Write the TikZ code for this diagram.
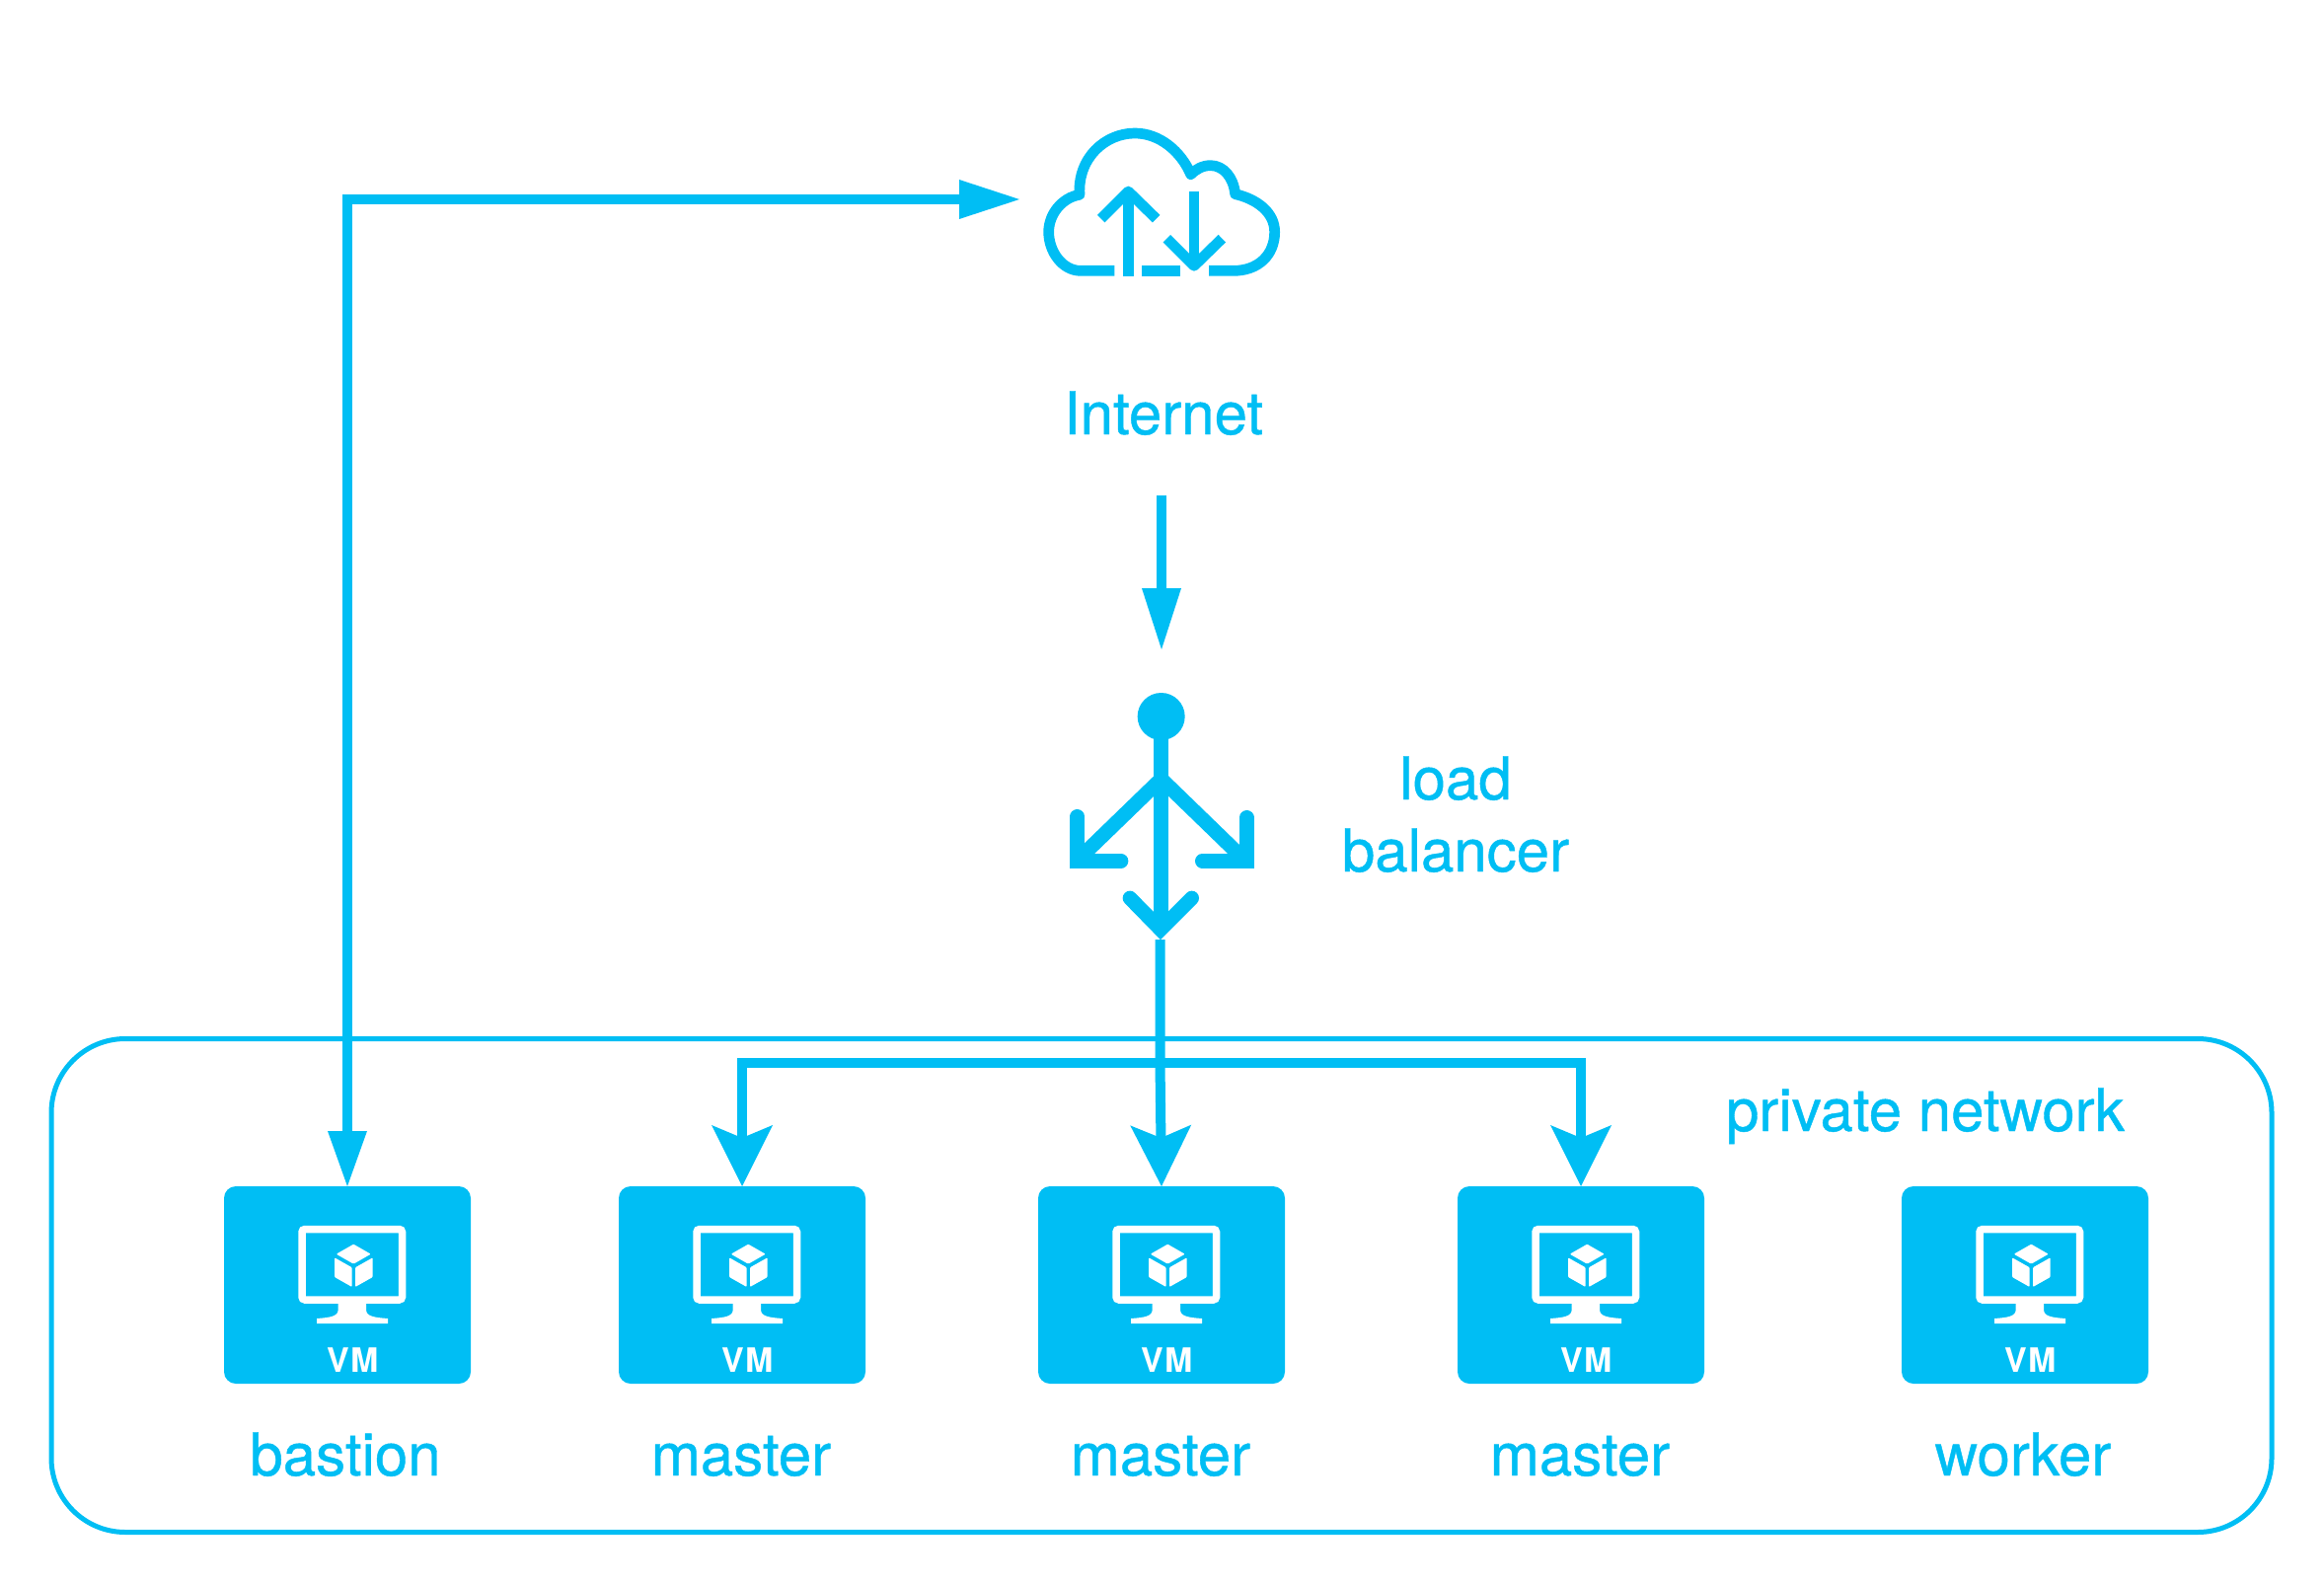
\documentclass[tikz,border=0pt]{standalone}
\usepackage{fontspec}
\setmainfont{TeX Gyre Heros}
\newfontfamily\labelfont[RawFeature={embolden=0.7}]{TeX Gyre Heros}
\usetikzlibrary{arrows.meta}
\definecolor{az}{HTML}{00BEF4}
\tikzset{
  x=1pt,y=-1pt,
  lbl/.style={anchor=base,inner sep=0pt,outer sep=0pt,text=az,font=\labelfont\fontsize{60}{73}\selectfont},
  vmbox/.style={fill=az,rounded corners=12pt,minimum width=250pt,minimum height=200pt,inner sep=0pt,outer sep=0pt},
  vmtext/.style={anchor=base,inner sep=0pt,text=white,font=\fontsize{34}{34}\selectfont\bfseries},
  link/.style={draw=az,line width=10pt,line join=miter,line cap=butt},
  fine/.style={draw=az,line width=5pt,rounded corners=75pt},
  iconbox/.style={inner sep=0pt,outer sep=0pt,minimum width=240pt},
  cloudline/.style={draw=az,line width=10.7pt,line join=round,line cap=butt},
  lbline/.style={draw=az,line width=14.7pt,line join=miter,line cap=butt},
  lbcap/.style={draw=az,line width=14.7pt,line join=miter,line cap=round},
}
\newcommand{\vmunit}[4]{%
  \node[vmbox] (#1) at (#2,1302) {};
  \begin{scope}[shift={(#2,1302)}]
    \draw[white,line width=7.5pt,rounded corners=3pt] (-46,-56.5) rectangle (55.5,15);
    \fill[white] (-9.3,19) -- (-9.3,25) .. controls (-9.3,32) and (-18,33) .. (-31,34) -- (-31,39) -- (41,39) -- (41,34) .. controls (28,33) and (19,32) .. (19,25) -- (19,19) -- cycle;
    \fill[white,rounded corners=1pt] (6.3,-41.3) -- (23.7,-31.3) -- (6.3,-21.3) -- (-11.3,-31.3) -- cycle;
    \fill[white,rounded corners=1pt] (-13,-27.7) -- (4.7,-17.7) -- (4.7,2) -- (-13,-8) -- cycle;
    \fill[white,rounded corners=1pt] (8,-17.7) -- (25.7,-27.7) -- (25.7,-8) -- (8,2) -- cycle;
    \node[vmtext] (#1vm) at (6,88) {V\kern1.5pt M};
  \end{scope}
  \node[lbl] (#1name) at (#3,1495) {#4};
}
\begin{document}
\begin{tikzpicture}
\useasboundingbox (0,0) rectangle (2355,1605);
% private network frame
\node[inner sep=0pt,outer sep=0pt,minimum width=2250pt,minimum height=500pt] (net) at (1177,1302.5) {};
\draw[fine] (net.north west) rectangle (net.south east);
\node[lbl] (netname) at (1951,1146) {private network};

% VMs
\vmunit{bastion}{352}{350}{bastion}
\vmunit{ma}{752}{751}{master}
\vmunit{mb}{1177}{1176}{master}
\vmunit{mc}{1602}{1601}{master}
\vmunit{worker}{2052}{2050}{worker}

% cloud icon
\node[iconbox,minimum height=160pt] (cloud) at (1177,202) {};
\begin{scope}[shift={(1020,100)},xscale=1/3,yscale=1/3]
  \draw[cloudline] (328,523) -- (225,523) .. controls (170,523) and (128,465) .. (128,405) .. controls (128,350) and (170,300) .. (222,292) .. controls (215,180) and (300,105) .. (390,105) .. controls (465,105) and (530,160) .. (560,230) .. controls (575,215) and (595,203) .. (620,203) .. controls (660,203) and (690,240) .. (695,290) .. controls (760,305) and (815,345) .. (815,405) .. controls (815,475) and (765,523) .. (690,523) -- (615,523);
  \draw[cloudline] (412,523) -- (527,523);
  \draw[cloudline] (370,540) -- (370,285);
  \draw[cloudline] (287,365) -- (370,282) -- (455,365);
  \draw[cloudline] (570,282) -- (570,505);
  \draw[cloudline] (487,425) -- (570,508) -- (655,425);
\end{scope}
\node[lbl,text depth=0pt] (inet) at (1179,440) {Internet};

% load balancer icon
\node[iconbox,minimum height=250pt] (lb) at (1177,827) {};
\begin{scope}[shift={(1050,680)},xscale=1/3,yscale=1/3]
  \fill[az] (380,138) circle (72);
  \draw[lbline] (380,138) -- (380,780);
  \draw[lbline] (380,328) -- (125,575);
  \draw[lbline] (380,328) -- (640,580);
  \draw[lbcap] (125,442) -- (125,577) -- (258,577);
  \draw[lbcap] (640,445) -- (640,577) -- (505,577);
  \draw[lbcap] (285,690) -- (378,785) -- (473,690);
\end{scope}
\node[lbl,align=center,anchor=base] (lbname) at (1475,883) {load\\balancer};

% connectors
\coordinate (lbout) at (1175.5,952);
\coordinate (kink) at (1175.5,1077);
\draw[link,{Triangle[length=56pt,width=40pt,line width=0pt]}-{Triangle[length=61pt,width=40pt,line width=0pt]},shorten >=24pt] (bastion.north) |- (cloud.west);
\draw[link,-{Triangle[length=62pt,width=40pt,line width=0pt]},shorten <=62pt,shorten >=44pt] (inet.base -| lb.north) -- (lb.north);
\draw[link,-{Stealth[length=62pt,width=62pt,inset=13pt,line width=0pt]}] (lbout) -- (kink) -- (mb.north);
\draw[link,{Stealth[length=62pt,width=62pt,inset=13pt,line width=0pt]}-{Stealth[length=62pt,width=62pt,inset=13pt,line width=0pt]}] (ma.north) -- (ma.north |- kink) -- (mc.north |- kink) -- (mc.north);
\end{tikzpicture}
\end{document}
